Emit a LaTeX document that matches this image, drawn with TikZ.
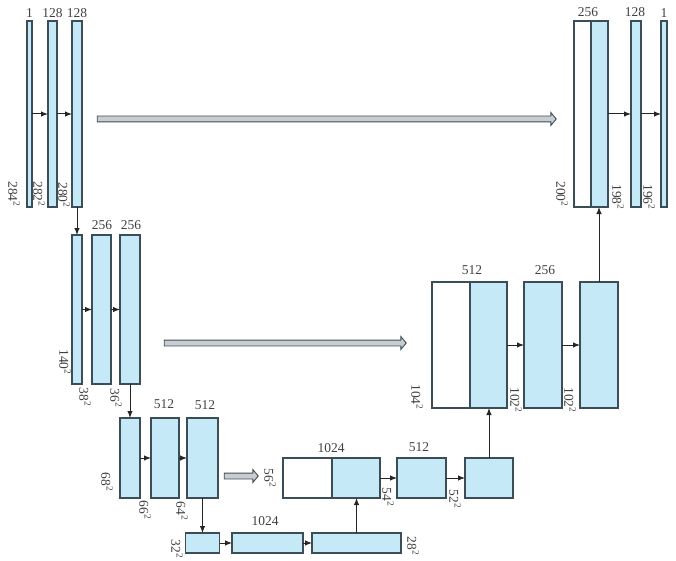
\documentclass[tikz,border=0pt]{standalone}
\usepackage{fontspec}
\setmainfont{Liberation Serif}
\usetikzlibrary{arrows.meta, positioning, shapes.arrows}
\definecolor{cellblue}{HTML}{C6E9F8}
\definecolor{edgegray}{HTML}{3B4E58}
\definecolor{copygray}{HTML}{C9CDD2}
\tikzstyle{blk} = [rectangle, draw=edgegray, line width=1.1pt, fill=cellblue,
inner sep=0pt, outer sep=0pt, anchor=north west]
\tikzstyle{wblk} = [blk, fill=white]
\tikzstyle{arrow} = [-{Latex[length=7pt,width=5.5pt]}, line width=1pt, draw=black!85]
\tikzstyle{copy} = [single arrow, draw=edgegray, fill=copygray, line width=0.9pt,
inner sep=2.5pt, minimum width=12pt, single arrow head extend=3.5pt,
single arrow tip angle=100]
\tikzstyle{ch} = [font=\fontsize{13.5}{15}\selectfont, text=black!75, inner sep=0pt]
\tikzstyle{dim} = [ch, rotate=-90]

\begin{document}
\begin{tikzpicture}[x=1pt, y=-1pt]
		
		\useasboundingbox (0,0) rectangle (676,561);
		
		% contracting path
		\node[blk, minimum width=5pt, minimum height=186pt] (a1) at (27,21) {};
		\node[blk, minimum width=9pt, minimum height=186pt] (a2) at (48,21) {};
		\node[blk, minimum width=10pt, minimum height=186pt] (a3) at (72,21) {};
		
		\node[blk, minimum width=10pt, minimum height=149pt] (b1) at (72,235) {};
		\node[blk, minimum width=19pt, minimum height=149pt] (b2) at (92,235) {};
		\node[blk, minimum width=20pt, minimum height=149pt] (b3) at (120,235) {};
		
		\node[blk, minimum width=20pt, minimum height=80pt] (c1) at (120,418) {};
		\node[blk, minimum width=28pt, minimum height=80pt] (c2) at (151,418) {};
		\node[blk, minimum width=31pt, minimum height=80pt] (c3) at (187,418) {};
		
		% bottom
		\node[blk, minimum width=34pt, minimum height=20pt] (f1) at (185.5,533) {};
		\node[blk, minimum width=71pt, minimum height=20pt] (f2) at (232,533) {};
		\node[blk, minimum width=89pt, minimum height=20pt] (f3) at (312,533) {};
		
		% expanding path
		\node[wblk, minimum width=49pt, minimum height=40pt] (e1w) at (283,458) {};
		\node[blk, minimum width=48pt, minimum height=40pt] (e1b) at (332,458) {};
		\node[blk, minimum width=49pt, minimum height=40pt] (e2) at (397,458) {};
		\node[blk, minimum width=48pt, minimum height=40pt] (e3) at (465,458) {};
		
		\node[wblk, minimum width=38pt, minimum height=126pt] (d1w) at (432,282) {};
		\node[blk, minimum width=37pt, minimum height=126pt] (d1b) at (470,282) {};
		\node[blk, minimum width=38pt, minimum height=126pt] (d2) at (524,282) {};
		\node[blk, minimum width=38pt, minimum height=126pt] (d3) at (580,282) {};
		
		\node[wblk, minimum width=17pt, minimum height=186pt] (r1w) at (574,21) {};
		\node[blk, minimum width=17pt, minimum height=186pt] (r1b) at (591,21) {};
		\node[blk, minimum width=10pt, minimum height=186pt] (r2) at (631,21) {};
		\node[blk, minimum width=6pt, minimum height=186pt] (r3) at (661,21) {};
		
		% channel numbers
		\node[ch] (na1) at (29.5,13) {1};
		\node[ch] (na2) at (52.5,13) {128};
		\node[ch] (na3) at (77,13) {128};
		\node[ch] (nb2) at (102,225) {256};
		\node[ch] (nb3) at (131,225) {256};
		\node[ch] (nc2) at (164,404) {512};
		\node[ch] (nc3) at (205,405) {512};
		\node[ch] (nf2) at (265,521) {1024};
		\node[ch] (ne1) at (331,448) {1024};
		\node[ch] (ne2) at (419,447) {512};
		\node[ch] (nd1) at (472,270) {512};
		\node[ch] (nd2) at (545,270) {256};
		\node[ch] (nr1) at (588,12) {256};
		\node[ch] (nr2) at (635,12) {128};
		\node[ch] (nr3) at (664,13) {1};
		
		% sizes
		\node[dim] (sa1) at (14,194) {284\textsuperscript{2}};
		\node[dim] (sa2) at (39,194) {282\textsuperscript{2}};
		\node[dim] (sa3) at (64,195) {280\textsuperscript{2}};
		\node[dim] (sb1) at (65,362) {140\textsuperscript{2}};
		\node[dim] (sb2) at (85,397) {38\textsuperscript{2}};
		\node[dim] (sb3) at (116,398) {36\textsuperscript{2}};
		\node[dim] (sc1) at (107,482) {68\textsuperscript{2}};
		\node[dim] (sc2) at (145,510) {66\textsuperscript{2}};
		\node[dim] (sc3) at (182,511) {64\textsuperscript{2}};
		\node[dim] (sf1) at (177,549) {32\textsuperscript{2}};
		\node[dim] (sf3) at (413,546) {28\textsuperscript{2}};
		\node[dim] (se1) at (270,478) {56\textsuperscript{2}};
		\node[dim] (se2) at (388,497) {54\textsuperscript{2}};
		\node[dim] (se3) at (455,499) {52\textsuperscript{2}};
		\node[dim] (sd1) at (417,397) {104\textsuperscript{2}};
		\node[dim] (sd2) at (516,400) {102\textsuperscript{2}};
		\node[dim] (sd3) at (570,400) {102\textsuperscript{2}};
		\node[dim] (sr1) at (562,194) {200\textsuperscript{2}};
		\node[dim] (sr2) at (618,197) {198\textsuperscript{2}};
		\node[dim] (sr3) at (649,197) {196\textsuperscript{2}};
		
		% copy and crop
		\node[copy, minimum height=459pt] (cp1) at (325.5,119) {};
		\node[copy, minimum height=242pt] (cp2) at (284,343) {};
		\node[copy, minimum height=34pt] (cp3) at (240,476) {};
		
		% Edges
		\draw[arrow] (a1) -- (a2);
		\draw[arrow] (a2) -- (a3);
		\draw[arrow] (b1) -- (b2);
		\draw[arrow] (b2) -- (b3);
		\draw[arrow] (c1) -- (c2);
		\draw[arrow] (c2) -- (c3);
		\draw[arrow] (f1) -- (f2);
		\draw[arrow] (f2) -- (f3);
		\draw[arrow] (e1b) -- (e2);
		\draw[arrow] (e2) -- (e3);
		\draw[arrow] (d1b) -- (d2);
		\draw[arrow] (d2) -- (d3);
		\draw[arrow] (r1b) -- (r2);
		\draw[arrow] (r2) -- (r3);
		
		\draw[arrow] (a3.south) -- (a3.south |- b1.north);
		\draw[arrow] (b3.south) -- (b3.south |- c1.north);
		\draw[arrow] (c3.south) -- (c3.south |- f1.north);
		\draw[arrow] (f3.north) -- (f3.north |- e1b.south);
		\draw[arrow] (e3.north) -- (e3.north |- d1b.south);
		\draw[arrow] (d3.north) -- (d3.north |- r1b.south);
		
	\end{tikzpicture}
\end{document}
